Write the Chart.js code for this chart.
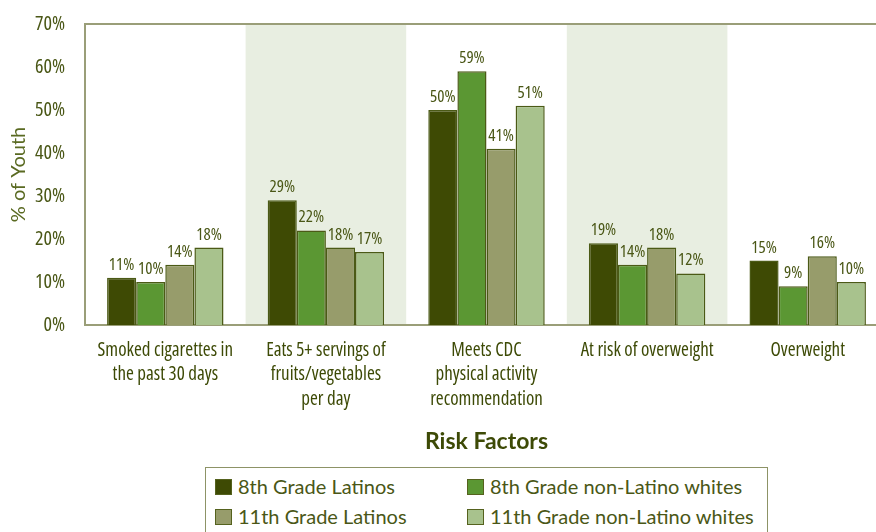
<!DOCTYPE html>
<html>
<head>
<meta charset="utf-8">
<script src="https://cdn.jsdelivr.net/npm/chart.js@4/dist/chart.umd.min.js"></script>
<style>
  html, body { margin: 0; padding: 0; background: #ffffff; overflow: hidden; }
  #wrap { position: relative; width: 876px; height: 532px; overflow: hidden; }
  #box { position: absolute; left: 0; top: 0; width: 888px; height: 532px; }
  #legend { position: absolute; left: 205px; top: 467px; width: 563px; height: 80px;
            border: 1px solid #8d9366; box-sizing: border-box; background: #fff; }
  .li { position: absolute; font-family: Lato, sans-serif; font-size: 20px; color: #4a5716;
        white-space: nowrap; line-height: 24px; }
  .sw { position: absolute; width: 17px; height: 16px; box-sizing: border-box; border: 1px solid #55621e; }
</style>
</head>
<body>
<div id="wrap">
  <div id="box"><canvas id="c"></canvas></div>
  <div id="legend"></div>
</div>
<script>
const categories = [
  ["Smoked cigarettes in", "the past 30 days"],
  ["Eats 5+ servings of", "fruits/vegetables", "per day"],
  ["Meets CDC", "physical activity", "recommendation"],
  ["At risk of overweight"],
  ["Overweight"]
];
const seriesNames = ["8th Grade Latinos", "8th Grade non-Latino whites", "11th Grade Latinos", "11th Grade non-Latino whites"];
const latinos8 = [11, 29, 50, 19, 15];
const whites8 = [10, 22, 59, 14, 9];
const latinos11 = [14, 18, 41, 18, 16];
const whites11 = [18, 17, 51, 12, 10];
const yTicks = [0, 10, 20, 30, 40, 50, 60, 70];
const seriesColors = ["#3e4a04", "#5b9733", "#979c6b", "#a8c28d"];
const shadedCategories = [1, 3];

const values = [latinos8, whites8, latinos11, whites11];
const BORDER = "#9a9e78";
const TEXT = "#4a5716";
const COND = '"Open Sans", sans-serif';

const bandPlugin = {
  id: 'bands',
  beforeDatasetsDraw(chart) {
    const {ctx, chartArea, scales: {x}} = chart;
    const w = (chartArea.right - chartArea.left) / categories.length;
    ctx.save();
    ctx.fillStyle = "#e8eee1";
    shadedCategories.forEach(i => {
      const cx = x.getPixelForValue(i);
      ctx.fillRect(cx - w / 2, chartArea.top + 1, w, chartArea.bottom - chartArea.top - 2);
    });
    ctx.restore();
  },
  afterDraw(chart) {
    const {ctx, chartArea} = chart;
    ctx.save();
    ctx.strokeStyle = BORDER;
    ctx.lineWidth = 2;
    ctx.beginPath();
    ctx.moveTo(chartArea.left - 1, chartArea.top);
    ctx.lineTo(chartArea.right, chartArea.top);
    ctx.stroke();
    ctx.restore();
  }
};

const labelPlugin = {
  id: 'vlabels',
  afterDatasetsDraw(chart) {
    const {ctx} = chart;
    ctx.save();
    ctx.font = '400 condensed 17px ' + COND;
    ctx.fillStyle = TEXT;
    ctx.textAlign = 'center';
    ctx.textBaseline = 'alphabetic';
    chart.data.datasets.forEach((ds, di) => {
      chart.getDatasetMeta(di).data.forEach((bar, i) => {
        ctx.fillText(ds.data[i] + '%', bar.x, bar.y - 8);
      });
    });
    ctx.restore();
  }
};

new Chart(document.getElementById('c'), {
  type: 'bar',
  data: {
    labels: categories,
    datasets: seriesNames.map((n, i) => ({
      label: n,
      data: values[i],
      backgroundColor: seriesColors[i],
      borderColor: "#4b5a16",
      borderWidth: 1.5,
      borderSkipped: 'bottom',
      categoryPercentage: 0.725,
      barPercentage: 1.0
    }))
  },
  options: {
    responsive: true,
    maintainAspectRatio: false,
    animation: false,
    layout: { padding: { top: 17, left: 0, right: 0, bottom: 0 } },
    plugins: { legend: { display: false }, tooltip: { enabled: false } },
    scales: {
      x: {
        grid: { display: false },
        border: { display: true, color: BORDER, width: 2 },
        ticks: {
          color: "#3d4a06",
          font: { family: COND, weight: '400 condensed', size: 19, lineHeight: 1.3 },
          padding: 5,
          maxRotation: 0,
          autoSkip: false
        },
        title: {
          display: true,
          text: "Risk Factors",
          color: "#3d4a06",
          font: { family: 'Lato, sans-serif', size: 23, weight: 'bold', lineHeight: 1.2 },
          padding: { top: 0, bottom: 77 }
        },
        afterFit(scale) { scale.height = 532 - 325; }
      },
      y: {
        min: 0, max: 70,
        afterBuildTicks(scale) { scale.ticks = yTicks.map(v => ({ value: v })); },
        grid: { display: false },
        border: { display: true, color: BORDER, width: 2 },
        ticks: {
          color: TEXT,
          font: { family: COND, weight: '400 condensed', size: 20 },
          padding: 12,
          callback: v => v + '%'
        },
        title: {
          display: true,
          text: "% of Youth",
          color: "#5a6a22",
          font: { family: 'Lato, sans-serif', size: 20 },
          padding: { top: 7, bottom: 4 }
        },
        afterFit(scale) { scale.width = 85; }
      }
    }
  },
  plugins: [bandPlugin, labelPlugin]
});

// HTML legend built from the series arrays
const leg = document.getElementById('legend');
const pos = [[9, 6], [261, 6], [9, 36], [261, 36]];
seriesNames.forEach((n, i) => {
  const sw = document.createElement('div');
  sw.className = 'sw';
  sw.style.background = seriesColors[i];
  sw.style.left = pos[i][0] + 'px';
  sw.style.top = (pos[i][1] + 5) + 'px';
  leg.appendChild(sw);
  const t = document.createElement('div');
  t.className = 'li';
  t.textContent = n;
  t.style.left = (pos[i][0] + 23) + 'px';
  t.style.top = pos[i][1] + 'px';
  leg.appendChild(t);
});
</script>
</body>
</html>
